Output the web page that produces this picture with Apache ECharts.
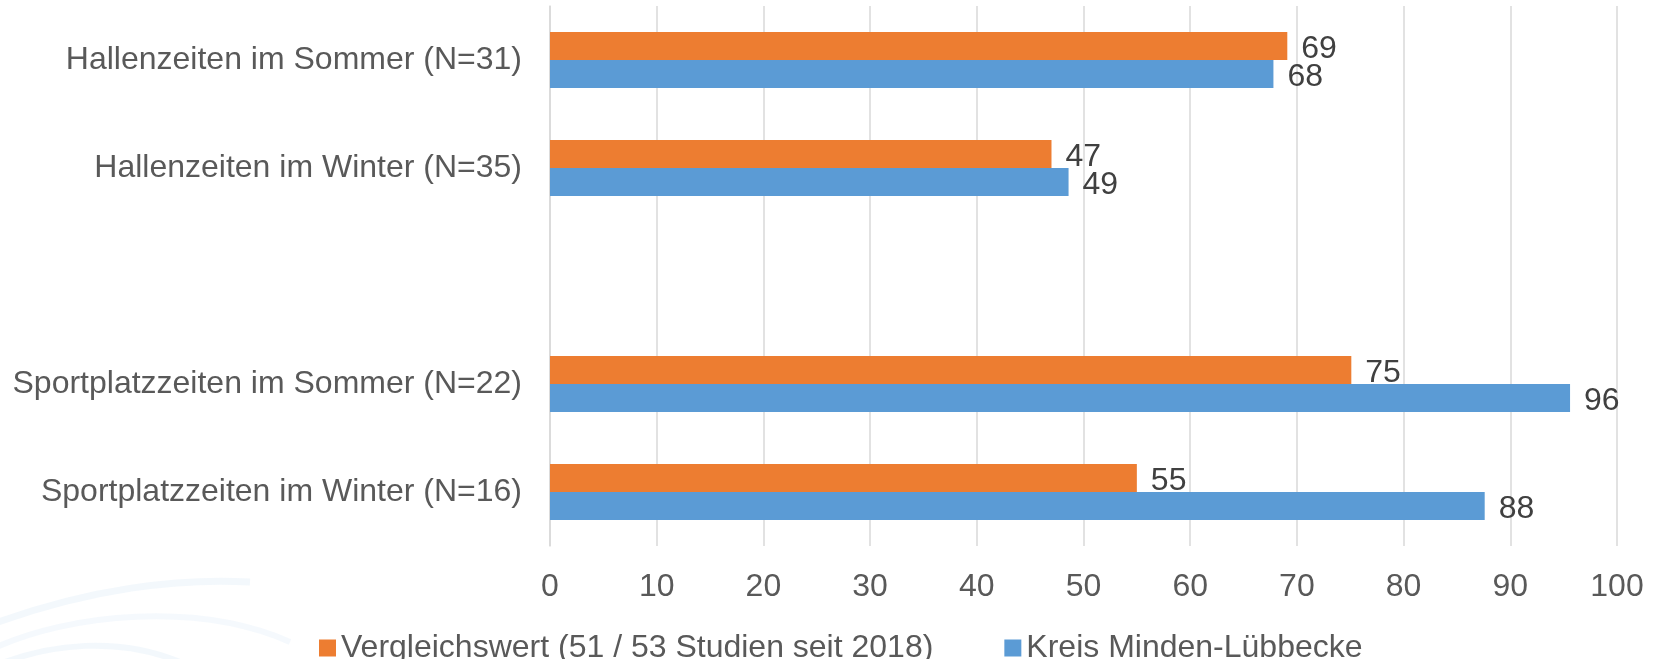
<!DOCTYPE html>
<html>
<head>
<meta charset="utf-8">
<script src="https://cdn.jsdelivr.net/npm/echarts@6/dist/echarts.min.js"></script>
<style>
html,body{margin:0;padding:0;background:#fff;}
#c{width:1658px;height:659px;}
</style>
</head>
<body>
<div id="c"></div>
<script>
const categories = [
  "Hallenzeiten im Sommer (N=31)",
  "Hallenzeiten im Winter (N=35)",
  "",
  "Sportplatzzeiten im Sommer (N=22)",
  "Sportplatzzeiten im Winter (N=16)"
];
const seriesNames = ["Vergleichswert (51 / 53 Studien seit 2018)", "Kreis Minden-Lübbecke"];
const vergleichswert = [69.1, 47.0, null, 75.1, 55.0];
const kreis = [67.8, 48.6, null, 95.6, 87.6];
const xTicks = [0, 10, 20, 30, 40, 50, 60, 70, 80, 90, 100];

const FONT = '"Liberation Sans", Arial, sans-serif';
const chart = echarts.init(document.getElementById('c'), null, {renderer: 'canvas'});

const labelCfg = {
  show: true,
  position: 'right',
  distance: 14,
  offset: [0, 3],
  color: '#404040',
  fontSize: 32,
  fontFamily: FONT,
  formatter: p => Math.round(p.value)
};

chart.setOption({
  animation: false,
  backgroundColor: '#ffffff',
  textStyle: {fontFamily: FONT},
  graphic: [
    {type: 'bezierCurve', silent: true, z: -10,
     shape: {x1: -10, y1: 625, cpx1: 90, cpy1: 588, cpx2: 180, cpy2: 578, x2: 250, y2: 582},
     style: {stroke: 'rgba(91,155,213,0.07)', lineWidth: 7, fill: null}},
    {type: 'bezierCurve', silent: true, z: -10,
     shape: {x1: -10, y1: 650, cpx1: 70, cpy1: 612, cpx2: 200, cpy2: 602, x2: 290, y2: 642},
     style: {stroke: 'rgba(91,155,213,0.06)', lineWidth: 6, fill: null}},
    {type: 'bezierCurve', silent: true, z: -10,
     shape: {x1: -10, y1: 668, cpx1: 50, cpy1: 642, cpx2: 120, cpy2: 637, x2: 180, y2: 662},
     style: {stroke: 'rgba(91,155,213,0.07)', lineWidth: 6, fill: null}}
  ],
  grid: {left: 550, right: 41, top: 6, height: 540, containLabel: false},
  legend: {
    left: 314,
    top: 627,
    itemWidth: 17,
    itemHeight: 17,
    itemGap: 71,
    icon: 'rect',
    textStyle: {fontSize: 32, color: '#595959', fontFamily: FONT},
    data: seriesNames
  },
  xAxis: {
    type: 'value',
    min: xTicks[0],
    max: xTicks[xTicks.length - 1],
    interval: 10,
    axisLine: {show: false},
    axisTick: {show: false},
    axisLabel: {fontSize: 32, color: '#595959', fontFamily: FONT, margin: 25},
    splitLine: {show: true, lineStyle: {color: '#D9D9D9', width: 1.5}}
  },
  yAxis: {
    type: 'category',
    inverse: true,
    data: categories,
    axisLine: {show: true, lineStyle: {color: '#D9D9D9', width: 1.5}},
    axisTick: {show: false},
    axisLabel: {fontSize: 32, color: '#595959', fontFamily: FONT, margin: 28, padding: [5, 0, 0, 0]}
  },
  series: [
    {
      name: seriesNames[0],
      type: 'bar',
      data: vergleichswert,
      barWidth: 28,
      barGap: '0%',
      itemStyle: {color: '#ED7D31'},
      label: labelCfg
    },
    {
      name: seriesNames[1],
      type: 'bar',
      data: kreis,
      barWidth: 28,
      barGap: '0%',
      itemStyle: {color: '#5B9BD5'},
      label: labelCfg
    }
  ]
});
</script>
</body>
</html>
